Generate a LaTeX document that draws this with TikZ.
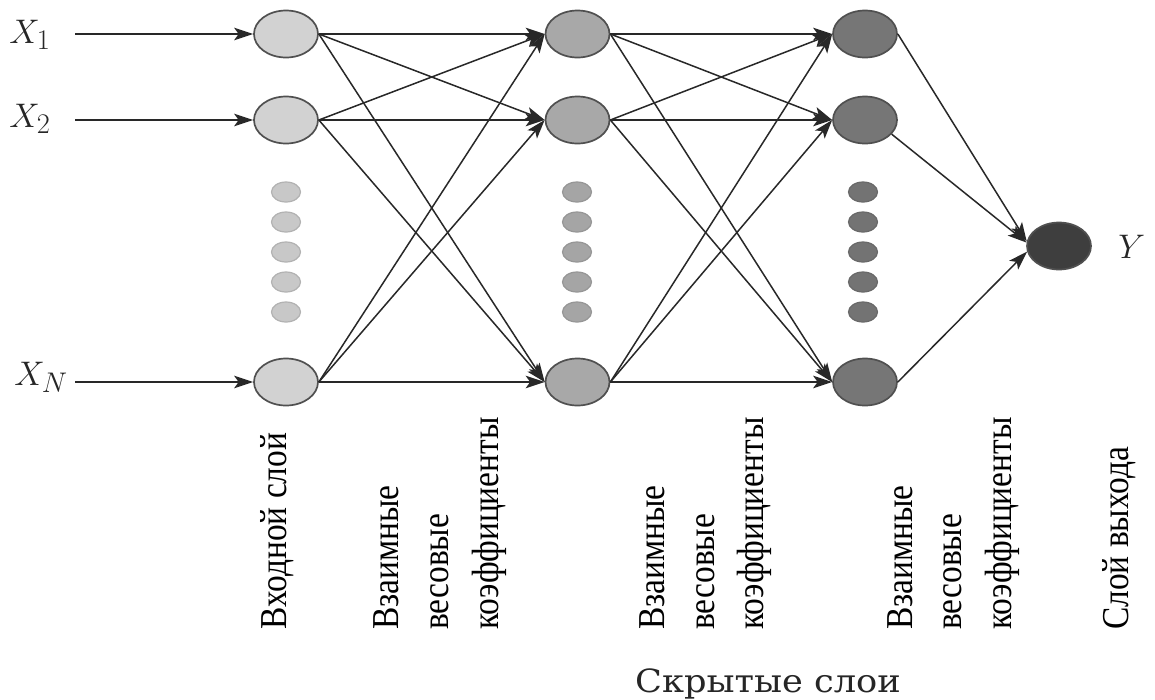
\documentclass[tikz,border=0pt]{standalone}
\usepackage{fontspec}
\setmainfont{Liberation Serif}
\newfontfamily\condserif[FakeStretch=0.88]{Liberation Serif}
\newfontfamily\capserif[FakeStretch=1.1]{DejaVu Serif}
\usetikzlibrary{arrows.meta,shapes.geometric}

\definecolor{fillA}{RGB}{210,210,210}
\definecolor{fillB}{RGB}{168,168,168}
\definecolor{fillC}{RGB}{118,118,118}
\definecolor{fillY}{RGB}{62,62,62}
\definecolor{rim}{RGB}{80,80,80}
\definecolor{wire}{RGB}{40,40,40}
\definecolor{dotA}{RGB}{200,200,200}
\definecolor{dotArim}{RGB}{178,178,178}
\definecolor{dotB}{RGB}{165,165,165}
\definecolor{dotBrim}{RGB}{150,150,150}
\definecolor{dotC}{RGB}{115,115,115}
\definecolor{dotCrim}{RGB}{105,105,105}

\begin{document}
\begin{tikzpicture}[x=1pt,y=-1pt,
  neuron/.style={ellipse, draw=rim, line width=1.7pt, minimum width=64pt, minimum height=47pt, inner sep=0pt},
  layerA/.style={neuron, fill=fillA},
  layerB/.style={neuron, fill=fillB},
  layerC/.style={neuron, fill=fillC},
  outneuron/.style={neuron, fill=fillY},
  smalldot/.style={ellipse, line width=1.2pt, minimum width=29pt, minimum height=20pt, inner sep=0pt},
  conn/.style={draw=wire, line width=1.5pt, -{Stealth[length=19pt,width=12.5pt,inset=4.5pt]}},
  varlabel/.style={anchor=base west, font=\Huge, scale=1.37, inner sep=0pt, text=black!85},
  vlabel/.style={rotate=90, anchor=base west, inner sep=0pt, text=black, font=\condserif\fontsize{38}{44}\selectfont}
]
\useasboundingbox[fill=white] (0,0) rectangle (1155,699);

% input layer
\node[layerA] (a1) at (286,34) {};
\node[layerA] (a2) at (286,120) {};
\node[layerA] (an) at (286,382) {};
% first hidden layer
\node[layerB] (b1) at (577.5,34) {};
\node[layerB] (b2) at (577.5,120) {};
\node[layerB] (bn) at (577.5,382) {};
% second hidden layer
\node[layerC] (c1) at (865,34) {};
\node[layerC] (c2) at (865,120) {};
\node[layerC] (cn) at (865,382) {};
% output neuron
\node[outneuron] (y) at (1059,246) {};

% omitted neurons
\foreach \k/\yy in {1/192,2/222,3/252,4/282,5/312}{
  \node[smalldot, fill=dotA, draw=dotArim] (da\k) at (286,\yy) {};
  \node[smalldot, fill=dotB, draw=dotBrim] (db\k) at (577,\yy) {};
  \node[smalldot, fill=dotC, draw=dotCrim] (dc\k) at (863,\yy) {};
}

% inputs
\node[varlabel] (x1) at (9,43) {$X_1$};
\node[varlabel] (x2) at (9,127) {$X_2$};
\node[varlabel] (xn) at (14,385) {$X_N$};
\coordinate (i1) at (75,34);
\coordinate (i2) at (75,120);
\coordinate (in) at (75,382);
\draw[conn] (i1) -- (a1.west);
\draw[conn] (i2) -- (a2.west);
\draw[conn] (in) -- (an.west);

% weights between layers
\foreach \s in {a1,a2,an}{
  \foreach \t in {b1,b2,bn}{
    \draw[conn] (\s.east) -- (\t.west);
  }
}
\foreach \s in {b1,b2,bn}{
  \foreach \t in {c1,c2,cn}{
    \draw[conn] (\s.east) -- (\t.west);
  }
}
\draw[conn] (c1.east) -- (y.172);
\draw[conn] (c2.-28) -- (y.174);
\draw[conn] (cn.east) -- (y.190);

\node[varlabel] (ylab) at (1118,258) {$Y$};

% layer captions
\node[vlabel] (capin) at (286,630) {Входной слой};
\node[vlabel] (w1a) at (398,630) {Взаимные};
\node[vlabel] (w1b) at (448,630) {весовые};
\node[vlabel] (w1c) at (498,630) {коэффициенты};
\node[vlabel] (w2a) at (664,630) {Взаимные};
\node[vlabel] (w2b) at (714,630) {весовые};
\node[vlabel] (w2c) at (763,630) {коэффициенты};
\node[vlabel] (w3a) at (912,630) {Взаимные};
\node[vlabel] (w3b) at (961,630) {весовые};
\node[vlabel] (w3c) at (1011,630) {коэффициенты};
\node[vlabel] (capout) at (1128,630) {Слой выхода};

\node[anchor=base west, inner sep=0pt, text=black!85, font=\capserif\fontsize{32}{38}\selectfont] (hidden) at (635,692) {Скрытые слои};
\end{tikzpicture}
\end{document}
